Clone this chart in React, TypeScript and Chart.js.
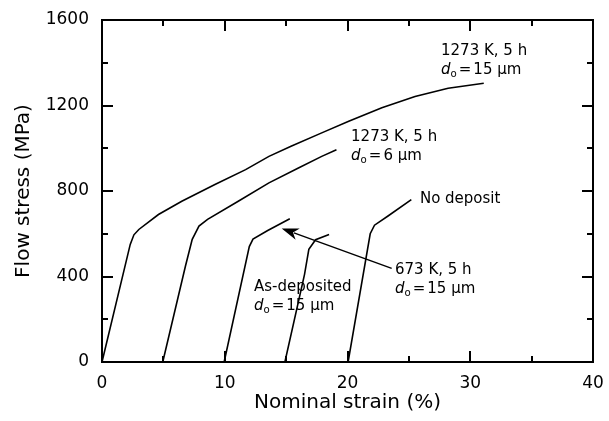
import React, { useEffect, useRef } from "react";
import { Chart, registerables } from "chart.js";

Chart.register(...registerables);

// ---- data ----
const strainA = [0, 2.3, 2.6, 3.0, 4.6, 6.5, 9.2, 11.7, 13.6, 15.4, 17.9, 20.1, 22.8, 25.5, 28.2, 31.1];
const stressA = [0, 550, 595, 620, 690, 752, 830, 900, 962, 1009, 1072, 1126, 1189, 1242, 1281, 1304];

const strainB = [4.95, 6.8, 7.35, 7.9, 8.6, 11.1, 13.6, 16.0, 17.9, 19.1];
const stressB = [0, 449, 574, 636, 667, 752, 838, 908, 962, 993];

const strainC = [9.95, 12.0, 12.3, 13.5, 15.3];
const stressC = [0, 540, 575, 615, 670];

const strainD = [14.9, 16.5, 16.85, 17.4, 18.5];
const stressD = [0, 410, 527, 572, 597];

const strainE = [20.05, 21.85, 22.2, 23.3, 25.2];
const stressE = [0, 600, 640, 683, 760];

const xMin = 0, xMax = 40, xStep = 5, xLabelEvery = 10;
const yMin = 0, yMax = 1600, yStep = 200, yLabelEvery = 400;

// annotation text (anchors in data units: left x, baseline y)
const labelLines = [
  ["1273 K, 5 h", "d|15 μm"],
  ["1273 K, 5 h", "d|6 μm"],
  ["No deposit"],
  ["673 K, 5 h", "d|15 μm"],
  ["As-deposited", "d|15 μm"],
];
const labelX = [27.62, 20.29, 25.9, 23.87, 12.38];
const labelY = [1436, 1034, 744, 412, 332];

const arrowFrom = [23.6, 438];
const arrowTo = [14.64, 625];

const toPts = (xs: number[], ys: number[]) => xs.map((x, i) => ({ x, y: ys[i] }));

const FONT = "'DejaVu Sans', sans-serif";

const decorPlugin = {
  id: "decor",
  afterDraw(chart: any) {
    const { ctx, chartArea: a, scales } = chart;
    const xs = scales.x, ys = scales.y;
    ctx.save();
    ctx.strokeStyle = "#000";
    ctx.fillStyle = "#000";
    ctx.lineWidth = 2;
    ctx.strokeRect(a.left, a.top, a.right - a.left, a.bottom - a.top);
    const major = 11, minor = 6;
    ctx.beginPath();
    for (let v = xMin + xStep; v < xMax; v += xStep) {
      const p = Math.round(xs.getPixelForValue(v));
      const len = v % xLabelEvery === 0 ? major : minor;
      ctx.moveTo(p, a.bottom); ctx.lineTo(p, a.bottom - len);
      ctx.moveTo(p, a.top); ctx.lineTo(p, a.top + len);
    }
    for (let v = yMin + yStep; v < yMax; v += yStep) {
      const p = Math.round(ys.getPixelForValue(v));
      const len = v % yLabelEvery === 0 ? major : minor;
      ctx.moveTo(a.left, p); ctx.lineTo(a.left + len, p);
      ctx.moveTo(a.right, p); ctx.lineTo(a.right - len, p);
    }
    ctx.stroke();

    const fs = 15;
    const lh = 19;
    ctx.textBaseline = "alphabetic";
    ctx.textAlign = "left";
    labelLines.forEach((lines, i) => {
      const x0 = xs.getPixelForValue(labelX[i]);
      const y0 = ys.getPixelForValue(labelY[i]);
      lines.forEach((line, j) => {
        const y = y0 + j * lh;
        if (line.startsWith("d|")) {
          let x = x0;
          ctx.font = `italic ${fs}px ${FONT}`;
          ctx.fillText("d", x, y);
          x += ctx.measureText("d").width;
          ctx.font = `${fs * 0.68}px ${FONT}`;
          ctx.fillText("o", x, y + 3);
          x += ctx.measureText("o").width + 2;
          ctx.font = `${fs}px ${FONT}`;
          ctx.fillText("=", x, y);
          x += ctx.measureText("=").width + 2;
          ctx.fillText(line.slice(2), x, y);
        } else {
          ctx.font = `${fs}px ${FONT}`;
          ctx.fillText(line, x0, y);
        }
      });
    });

    const fx = xs.getPixelForValue(arrowFrom[0]), fy = ys.getPixelForValue(arrowFrom[1]);
    const tx = xs.getPixelForValue(arrowTo[0]), ty = ys.getPixelForValue(arrowTo[1]);
    const ang = Math.atan2(ty - fy, tx - fx);
    const hl = 17, hw = 6;
    const bx = tx - hl * Math.cos(ang), by = ty - hl * Math.sin(ang);
    ctx.lineWidth = 1.5;
    ctx.beginPath();
    ctx.moveTo(fx, fy);
    ctx.lineTo(bx + 4 * Math.cos(ang), by + 4 * Math.sin(ang));
    ctx.stroke();
    ctx.beginPath();
    ctx.moveTo(tx, ty);
    ctx.lineTo(bx + hw * Math.sin(ang), by - hw * Math.cos(ang));
    ctx.lineTo(bx + 5 * Math.cos(ang), by + 5 * Math.sin(ang));
    ctx.lineTo(bx - hw * Math.sin(ang), by + hw * Math.cos(ang));
    ctx.closePath();
    ctx.fill();
    ctx.restore();
  },
};

export default function App() {
  const ref = useRef<HTMLCanvasElement | null>(null);
  useEffect(() => {
    if (!ref.current) return;
    const mk = (xs: number[], ys: number[]) => ({
      data: toPts(xs, ys),
      showLine: true,
      borderColor: "#000",
      borderWidth: 1.6,
      pointRadius: 0,
      tension: 0,
      fill: false,
    });
    const chart = new Chart(ref.current, {
      type: "scatter",
      data: {
        datasets: [
          mk(strainA, stressA),
          mk(strainB, stressB),
          mk(strainC, stressC),
          mk(strainD, stressD),
          mk(strainE, stressE),
        ],
      },
      options: {
        animation: false,
        responsive: false,
        layout: { padding: { top: 20, right: 16, left: 0, bottom: 0 } },
        plugins: { legend: { display: false }, tooltip: { enabled: false } },
        scales: {
          x: {
            type: "linear",
            min: xMin,
            max: xMax,
            grid: { display: false, drawTicks: false },
            border: { display: false },
            ticks: {
              stepSize: xStep,
              padding: 11,
              color: "#000",
              font: { family: FONT, size: 17 },
              maxRotation: 0,
              autoSkip: false,
              callback: (v: any) => (Number(v) % xLabelEvery === 0 ? String(v) : ""),
            },
            title: {
              display: true,
              text: "Nominal strain (%)",
              color: "#000",
              font: { family: FONT, size: 20 },
              padding: { top: 0, bottom: 6 },
            },
            afterFit: (s: any) => {
              s.height = 59;
              s.paddingLeft = 0;
              s.paddingRight = 0;
            },
          },
          y: {
            type: "linear",
            min: yMin,
            max: yMax,
            grid: { display: false, drawTicks: false },
            border: { display: false },
            ticks: {
              stepSize: yStep,
              padding: 13,
              color: "#000",
              font: { family: FONT, size: 17 },
              autoSkip: false,
              callback: (v: any) => (Number(v) % yLabelEvery === 0 ? String(v) : ""),
            },
            title: {
              display: true,
              text: "Flow stress (MPa)",
              color: "#000",
              font: { family: FONT, size: 20 },
              padding: { top: 12, bottom: 0 },
            },
            afterFit: (s: any) => {
              s.width = 102;
              s.paddingTop = 0;
              s.paddingBottom = 0;
            },
          },
        },
      },
      plugins: [decorPlugin],
    } as any);
    return () => chart.destroy();
  }, []);
  return (
    <div style={{ position: "absolute", left: 0, top: 0, width: 609, height: 421, background: "#fff" }}>
      <canvas ref={ref} width={609} height={421} />
    </div>
  );
}
